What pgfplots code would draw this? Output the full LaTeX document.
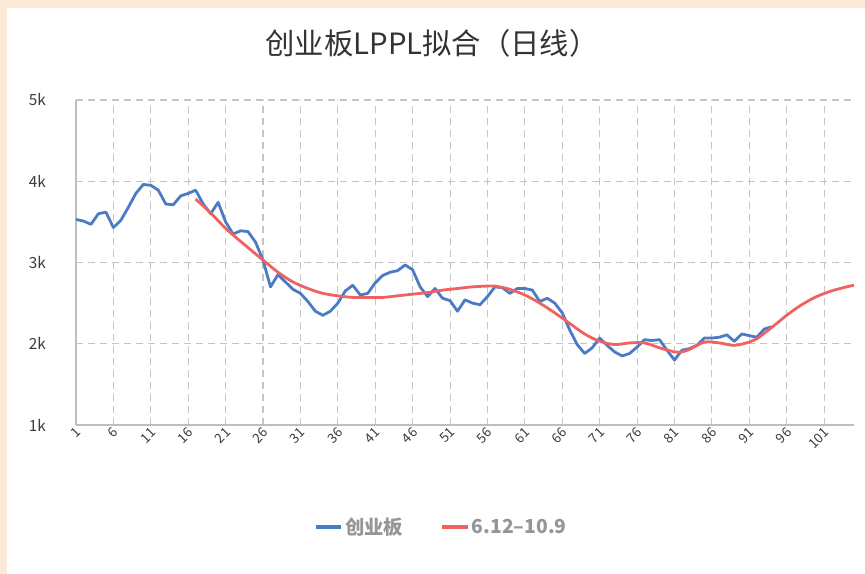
\documentclass[border=0pt]{standalone}
\usepackage{pgfplots}
\pgfplotsset{compat=1.18}
\usepackage{fontspec}
\setmainfont{Noto Sans CJK SC}

\definecolor{bgbeige}{RGB}{250,234,214}
\definecolor{titlegray}{RGB}{51,51,51}
\definecolor{ticklab}{RGB}{60,60,60}
\definecolor{leggray}{RGB}{150,150,150}
\definecolor{gridgray}{RGB}{196,196,196}
\definecolor{axgray}{RGB}{190,190,190}
\definecolor{cybblue}{RGB}{74,124,198}
\definecolor{fitred}{RGB}{240,98,98}

\begin{document}
\begin{tikzpicture}
% frame: beige strip on left and top, white card
\fill[bgbeige] (0pt,0pt) rectangle (648.75pt,430.5pt);
\fill[white] (5.25pt,0pt) rectangle (648.75pt,424.5pt);

\node[font=\fontsize{22}{26}\selectfont, text=titlegray] at (324pt,398pt) {创业板LPPL拟合（日线）};

\begin{axis}[
    at={(57pt,111.75pt)}, anchor=south west,
    scale only axis,
    width=583.5pt, height=243.75pt,
    xmin=1, xmax=105,
    ymin=1, ymax=5,
    xtick={1,6,...,101},
    ytick={1,2,3,4,5},
    yticklabels={1k,2k,3k,4k,5k},
    /pgf/number format/assume math mode=true,
    tick style={draw=none},
    axis x line*=bottom,
    axis y line*=left,
    axis line style={-, draw=axgray, line width=1.5pt},
    grid=major,
    major grid style={draw=gridgray, line width=0.8pt, dash pattern=on 5pt off 4pt},
    yticklabel style={font=\fontsize{11.5}{13}\selectfont, text=ticklab, xshift=-19pt},
    xticklabel style={font=\fontsize{10}{12}\selectfont, text=ticklab, rotate=45, anchor=east, yshift=-4pt, xshift=2pt},
    legend style={at={(0.47,-0.314)}, anchor=center, draw=none, fill=none,
        legend columns=2, font=\bfseries\fontsize{14.5}{16}\selectfont, text=leggray,
        /tikz/every even column/.append style={column sep=26pt}},
    legend image code/.code={\draw[#1, line width=2.4pt] (0pt,0pt) -- (19pt,0pt);},
]

% 创业板 daily close (thousands)
\addplot[color=cybblue, line width=2.1pt, line join=round] coordinates {
(1,3.53) (2,3.51) (3,3.47) (4,3.60) (5,3.62) (6,3.43) (7,3.52) (8,3.68) (9,3.85) (10,3.96)
(11,3.95) (12,3.89) (13,3.72) (14,3.71) (15,3.82) (16,3.85) (17,3.89) (18,3.72) (19,3.60) (20,3.74)
(21,3.50) (22,3.35) (23,3.39) (24,3.38) (25,3.25) (26,3.03) (27,2.70) (28,2.85) (29,2.76) (30,2.67)
(31,2.62) (32,2.52) (33,2.40) (34,2.35) (35,2.40) (36,2.50) (37,2.65) (38,2.72) (39,2.60) (40,2.62)
(41,2.75) (42,2.84) (43,2.88) (44,2.90) (45,2.97) (46,2.91) (47,2.70) (48,2.58) (49,2.68) (50,2.56)
(51,2.53) (52,2.40) (53,2.54) (54,2.50) (55,2.48) (56,2.58) (57,2.70) (58,2.69) (59,2.62) (60,2.68)
(61,2.68) (62,2.66) (63,2.52) (64,2.56) (65,2.50) (66,2.38) (67,2.17) (68,1.99) (69,1.88) (70,1.95)
(71,2.07) (72,1.98) (73,1.90) (74,1.85) (75,1.88) (76,1.96) (77,2.05) (78,2.04) (79,2.05) (80,1.92)
(81,1.80) (82,1.92) (83,1.94) (84,1.98) (85,2.07) (86,2.07) (87,2.08) (88,2.11) (89,2.03) (90,2.12)
(91,2.10) (92,2.08) (93,2.18) (94,2.21)
};
\addlegendentry{创业板}

% LPPL fit 6.12-10.9
\addplot[color=fitred, line width=2.1pt, smooth] coordinates {
(17,3.78) (19,3.61) (21,3.42) (23,3.26) (26,3.03) (28,2.88) (30,2.76) (32,2.68) (34,2.62)
(36,2.59) (38,2.57) (40,2.57) (42,2.57) (44,2.59) (46,2.61) (48,2.63) (50,2.66) (52,2.68)
(54,2.70) (56,2.71) (57,2.71) (59,2.67) (61,2.60) (63,2.50) (65,2.38) (67,2.25) (69,2.12)
(71,2.03) (73,1.99) (75,2.01) (77,2.01) (79,1.95) (81,1.90) (82,1.90) (83,1.93) (85,2.02)
(87,2.01) (89,1.98) (91,2.02) (92,2.06) (94,2.20) (96,2.35) (98,2.48) (100,2.58) (102,2.65)
(104,2.70) (105,2.72)
};
\addlegendentry{6.12–10.9}

\end{axis}
\pgfresetboundingbox
\path (0pt,0pt) rectangle (648.75pt,430.5pt);
\end{tikzpicture}
\end{document}
